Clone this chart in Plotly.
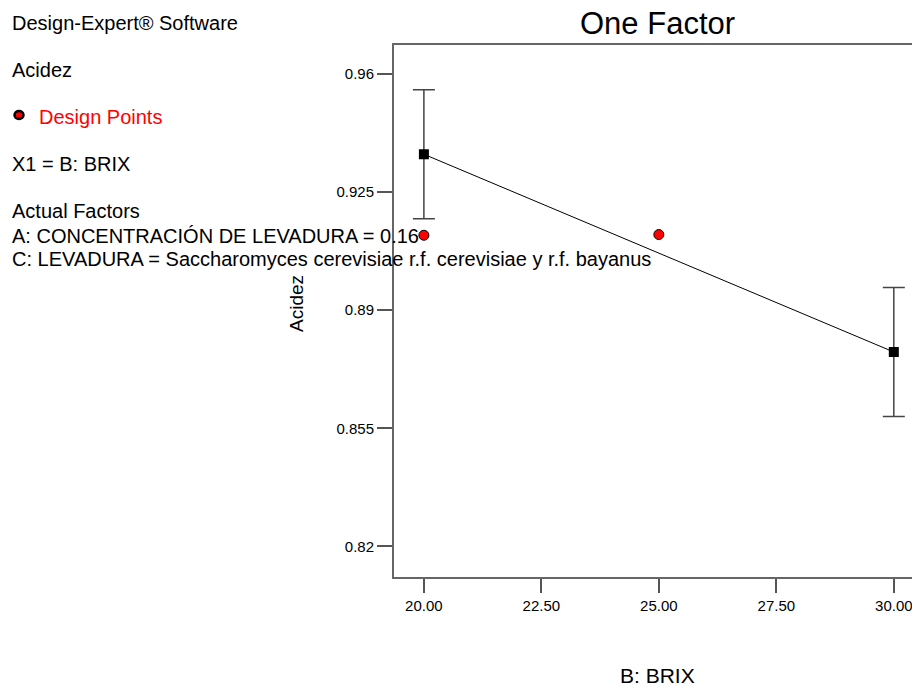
import plotly.graph_objects as go

# ---------------- data ----------------
brix_levels = [20.0, 30.0]
pred_mean = [0.9362, 0.8776]
ci_half = [0.0191, 0.0191]

design_x = [20.0, 25.0]
design_y = [0.9122, 0.9124]

x_ticks = [20.0, 22.5, 25.0, 27.5, 30.0]
x_ticklabels = ["20.00", "22.50", "25.00", "27.50", "30.00"]
y_ticks = [0.82, 0.855, 0.89, 0.925, 0.96]
y_ticklabels = ["0.82", "0.855", "0.89", "0.925", "0.96"]

title_text = "One Factor"
x_title = "B: BRIX"
y_title = "Acidez"
side_texts = [
    ("Design-Expert® Software", "black", 23),
    ("Acidez", "black", 70),
    ("Design Points", "red", 116.5),
    ("X1 = B: BRIX", "black", 164),
    ("Actual Factors", "black", 211),
    ("A: CONCENTRACIÓN DE LEVADURA = 0.16", "black", 235.5),
    ("C: LEVADURA = Saccharomyces cerevisiae r.f. cerevisiae y r.f. bayanus", "black", 259),
]

# ---------------- layout geometry (screen pixels) ----------------
OFF = 0                      # body margin removed via post_script
SW, SH = 912, 686            # screen size
W, H = SW - OFF, SH - OFF    # figure size
SL, ST, SB = 394, 45, 577    # plot area edges on screen
L, T = SL - OFF, ST - OFF
R = 0
B = H - (SB - OFF)
PW, PH = W - L - R, H - T - B
FONT = "Liberation Sans, Arial, sans-serif"


def px_x(p):
    return (p - OFF - L) / PW


def px_y(p):
    return (T + PH - (p - OFF)) / PH


fig = go.Figure()

# fitted line with CI bars
fig.add_trace(go.Scatter(
    x=brix_levels, y=pred_mean, mode="lines+markers",
    line=dict(color="black", width=1),
    marker=dict(symbol="square", size=10, color="black"),
    error_y=dict(type="data", array=ci_half, symmetric=True,
                 color="#444444", thickness=1.5, width=11),
    showlegend=False, hoverinfo="x+y",
))

# design points
fig.add_trace(go.Scatter(
    x=design_x, y=design_y, mode="markers",
    marker=dict(symbol="circle", size=10, color="#ff0000",
                line=dict(color="black", width=1)),
    showlegend=False,
))

annotations = []
for txt, col, yc in side_texts:
    xpos = 37 if txt == "Design Points" else 10
    annotations.append(dict(
        text=txt, xref="paper", yref="paper", x=px_x(xpos), y=px_y(yc),
        xanchor="left", yanchor="middle", showarrow=False,
        font=dict(family=FONT, size=20, color=col)))

annotations.append(dict(
    text=title_text, xref="paper", yref="paper", x=px_x(657), y=px_y(23.3),
    xanchor="center", yanchor="middle", showarrow=False,
    font=dict(family=FONT, size=31, color="black")))
annotations.append(dict(
    text=x_title, xref="paper", yref="paper", x=px_x(657), y=px_y(675.5),
    xanchor="center", yanchor="middle", showarrow=False,
    font=dict(family=FONT, size=21, color="black")))
annotations.append(dict(
    text=y_title, xref="paper", yref="paper", x=px_x(296), y=px_y(304),
    xanchor="center", yanchor="middle", showarrow=False, textangle=-90,
    font=dict(family=FONT, size=19, color="black")))

shapes = [dict(
    type="circle", xref="paper", yref="paper",
    xsizemode="pixel", ysizemode="pixel",
    xanchor=px_x(19), yanchor=px_y(115),
    x0=-4.5, x1=4.5, y0=-4, y1=4,
    fillcolor="#ff0000", line=dict(color="black", width=2.5))]

fig.update_layout(
    width=W, height=H,
    margin=dict(l=L, r=R, t=T, b=B, pad=0),
    paper_bgcolor="white", plot_bgcolor="white",
    font=dict(family=FONT, size=15, color="black"),
    annotations=annotations, shapes=shapes,
    xaxis=dict(range=[19.364, 30.387], tickvals=x_ticks, ticktext=x_ticklabels,
               showgrid=False, zeroline=False, showline=True, linewidth=2,
               linecolor="#666666", mirror=True, ticks="outside", ticklen=14,
               tickwidth=1.5, tickcolor="#555555", ticklabeloverflow="allow",
               tickfont=dict(family=FONT, size=15, color="black")),
    yaxis=dict(range=[0.81092, 0.96858], tickvals=y_ticks, ticktext=y_ticklabels,
               showgrid=False, zeroline=False, showline=True, linewidth=2,
               linecolor="#666666", mirror=False, ticks="outside", ticklen=15,
               tickwidth=1.5, tickcolor="#555555",
               tickfont=dict(family=FONT, size=15, color="black")),
)

fig.write_html(
    "out.html",
    config={"displayModeBar": False},
    post_script="document.body.style.margin='0';document.body.style.overflow='hidden';",
)
